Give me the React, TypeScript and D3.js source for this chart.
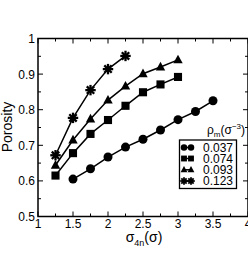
import React from "react";
import * as d3 from "d3";

const xTicks = [1, 1.5, 2, 2.5, 3, 3.5, 4];
const xTickLabels = ["1", "1.5", "2", "2.5", "3", "3.5", "4"];
const yTicks = [0.5, 0.6, 0.7, 0.8, 0.9, 1];
const yTickLabels = ["0.5", "0.6", "0.7", "0.8", "0.9", "1"];

const densities = ["0.037", "0.074", "0.093", "0.123"];
const symbols = ["circle", "square", "triangle", "star"];

const x037 = [1.5, 1.75, 2, 2.25, 2.5, 2.75, 3, 3.25, 3.5];
const y037 = [0.605, 0.634, 0.667, 0.695, 0.717, 0.743, 0.772, 0.795, 0.825];
const x074 = [1.25, 1.5, 1.75, 2, 2.25, 2.5, 2.75, 3];
const y074 = [0.615, 0.678, 0.732, 0.771, 0.811, 0.849, 0.871, 0.892];
const x093 = [1.25, 1.5, 1.75, 2, 2.25, 2.5, 2.75, 3];
const y093 = [0.644, 0.715, 0.774, 0.827, 0.866, 0.901, 0.92, 0.94];
const x123 = [1.25, 1.5, 1.75, 2, 2.25];
const y123 = [0.672, 0.777, 0.855, 0.914, 0.951];

const seriesX = [x037, x074, x093, x123];
const seriesY = [y037, y074, y093, y123];

function Marker({ type, cx, cy, s }: { type: string; cx: number; cy: number; s: number }) {
  if (type === "circle") return <circle cx={cx} cy={cy} r={s * 0.5} fill="#000" />;
  if (type === "square")
    return <rect x={cx - s * 0.45} y={cy - s * 0.45} width={s * 0.9} height={s * 0.9} fill="#000" />;
  if (type === "triangle") {
    const h = s * 0.95;
    return (
      <path
        d={`M${cx},${cy - h * 0.6} L${cx + h * 0.55},${cy + h * 0.4} L${cx - h * 0.55},${cy + h * 0.4} Z`}
        fill="#000"
      />
    );
  }
  const r = s * 0.58;
  const lines = [0, 45, 90, 135].map((a) => {
    const t = (a * Math.PI) / 180;
    return (
      <line
        key={a}
        x1={cx - r * Math.cos(t)}
        y1={cy - r * Math.sin(t)}
        x2={cx + r * Math.cos(t)}
        y2={cy + r * Math.sin(t)}
        stroke="#000"
        strokeWidth={s > 8 ? 2.3 : 1.8}
      />
    );
  });
  return (
    <g>
      {lines}
      <circle cx={cx} cy={cy} r={s * 0.28} fill="#000" />
    </g>
  );
}

export default function App() {
  const W = 248;
  const H = 255;
  const x = d3.scaleLinear().domain([1, 4]).range([38, 248]);
  const y = d3.scaleLinear().domain([0.5, 1]).range([216.5, 38.5]);
  const line = d3
    .line<[number, number]>()
    .x((d) => x(d[0]))
    .y((d) => y(d[1]));

  const xMinor = d3.range(1, 4.01, 0.25);
  const yMinor = d3.range(0.5, 1.001, 0.05);
  const font = "Liberation Sans, Arial, sans-serif";

  const legX = 179.5;
  const legY = 140;
  const legRows = [147.5, 158.5, 169.8, 181];

  return (
    <svg
      width={W}
      height={H}
      style={{ position: "absolute", left: 0, top: 0 }}
      fontFamily={font}
    >
      <rect x={0} y={0} width={W} height={H} fill="#fff" />
      {xMinor.map((v, i) => {
        const major = Math.abs(v * 2 - Math.round(v * 2)) < 1e-6;
        const len = major ? 5 : 3;
        return (
          <g key={"xt" + i}>
            <line x1={x(v)} x2={x(v)} y1={y(0.5)} y2={y(0.5) - len} stroke="#000" strokeWidth={1} />
            <line x1={x(v)} x2={x(v)} y1={y(1)} y2={y(1) + len} stroke="#000" strokeWidth={1} />
          </g>
        );
      })}
      {yMinor.map((v, i) => {
        const major = Math.abs(v * 10 - Math.round(v * 10)) < 1e-6;
        const len = major ? 5 : 3;
        return (
          <g key={"yt" + i}>
            <line x1={x(1)} x2={x(1) + len} y1={y(v)} y2={y(v)} stroke="#000" strokeWidth={1} />
            <line x1={x(4)} x2={x(4) - len} y1={y(v)} y2={y(v)} stroke="#000" strokeWidth={1} />
          </g>
        );
      })}
      <rect
        x={x(1)}
        y={y(1)}
        width={x(4) - x(1)}
        height={y(0.5) - y(1)}
        fill="none"
        stroke="#000"
        strokeWidth={1.5}
      />
      {xTicks.map((v, i) => (
        <text key={"xl" + i} x={x(v)} y={228} fontSize={12} textAnchor="middle" fill="#000">
          {xTickLabels[i]}
        </text>
      ))}
      {yTicks.map((v, i) => (
        <text
          key={"yl" + i}
          x={35}
          y={y(v) + 4.5}
          fontSize={12}
          textAnchor="end"
          fill="#000"
        >
          {yTickLabels[i]}
        </text>
      ))}
      <text x={144} y={242} fontSize={14} textAnchor="middle" fill="#000">
        σ
        <tspan fontSize={9} dy={4}>4n</tspan>
        <tspan dy={-4}>(σ)</tspan>
      </text>
      <text
        transform={`translate(12,127) rotate(-90)`}
        fontSize={14}
        textAnchor="middle"
        fill="#000"
      >
        Porosity
      </text>
      {seriesX.map((xs, si) => {
        const pts = xs.map((xv, j) => [xv, seriesY[si][j]] as [number, number]);
        return (
          <g key={"s" + si}>
            <path d={line(pts) || ""} fill="none" stroke="#000" strokeWidth={1.5} />
            {pts.map((p, j) => (
              <Marker key={j} type={symbols[si]} cx={x(p[0])} cy={y(p[1])} s={9} />
            ))}
          </g>
        );
      })}
      <text x={207} y={133.5} fontSize={12} fill="#000">
        ρ<tspan fontSize={8} dy={3}>m</tspan>
        <tspan dy={-3}>(σ</tspan>
        <tspan fontSize={8} dy={-5}>−3</tspan>
        <tspan dy={5}>)</tspan>
      </text>
      <rect
        x={legX}
        y={legY}
        width={57}
        height={48.5}
        fill="#fff"
        stroke="#000"
        strokeWidth={1.3}
      />
      {densities.map((d, i) => (
        <g key={"lg" + i}>
          <line x1={184} x2={191} y1={legRows[i]} y2={legRows[i]} stroke="#000" strokeWidth={1.5} />
          <Marker type={symbols[i]} cx={184} cy={legRows[i]} s={6.5} />
          <Marker type={symbols[i]} cx={191} cy={legRows[i]} s={6.5} />
          <text x={203} y={legRows[i] + 4.3} fontSize={12} fill="#000">
            {d}
          </text>
        </g>
      ))}
    </svg>
  );
}
